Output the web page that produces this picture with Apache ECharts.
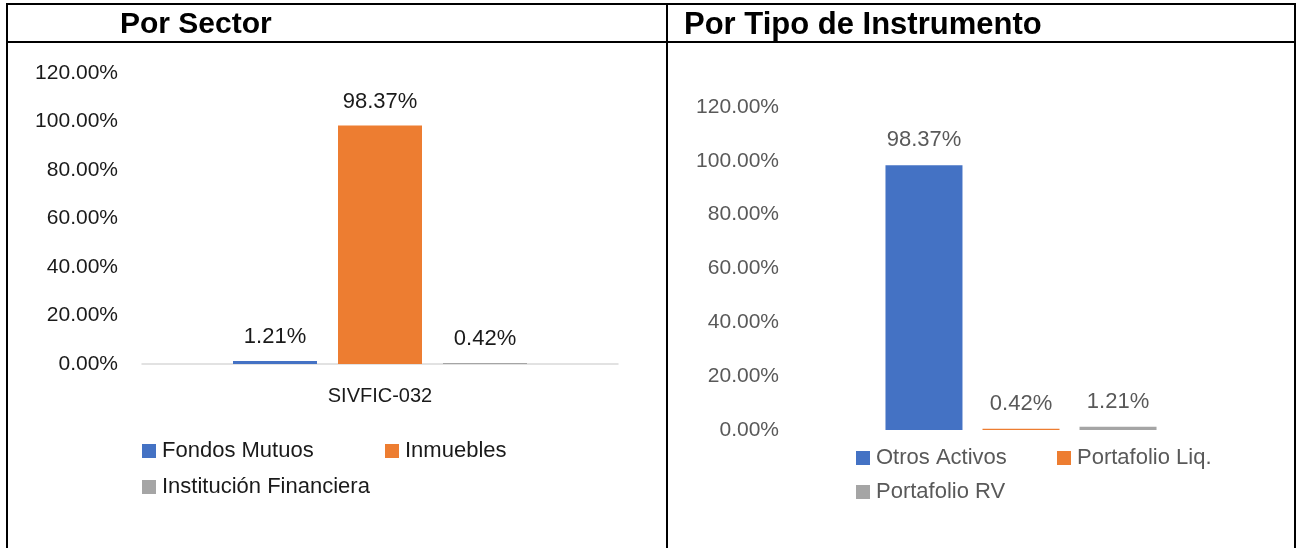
<!DOCTYPE html>
<html>
<head>
<meta charset="utf-8">
<script src="https://cdn.jsdelivr.net/npm/echarts@6/dist/echarts.min.js"></script>
<style>
html,body{margin:0;padding:0;background:#fff;}
#chart{width:1300px;height:548px;}
</style>
</head>
<body>
<div id="chart"></div>
<script>
// ---- Data ----
const sectorTitle = 'Por Sector';
const sectorCategories = ['SIVFIC-032'];
const sectorSeriesNames = ['Fondos Mutuos', 'Inmuebles', 'Institución Financiera'];
const sectorValues = [1.21, 98.37, 0.42];

const instrumentTitle = 'Por Tipo de Instrumento';
const instrumentCategories = [''];
const instrumentSeriesNames = ['Otros Activos', 'Portafolio Liq.', 'Portafolio RV'];
const instrumentValues = [98.37, 0.42, 1.21];

const axisMin = 0, axisMax = 120, axisInterval = 20;
const colors = ['#4472C4', '#ED7D31', '#A5A5A5'];

// ---- Chart ----
const FONT = 'Liberation Sans';
const chart = echarts.init(document.getElementById('chart'), null, {renderer: 'canvas'});
const pct = v => Number(v).toFixed(2) + '%';

const series = [];
sectorSeriesNames.forEach((n, i) => {
  series.push({
    type: 'bar', name: n, xAxisIndex: 0, yAxisIndex: 0,
    data: [sectorValues[i]], barWidth: 84, barGap: '25%',
    itemStyle: {color: colors[i]},
    label: {show: true, position: 'top', distance: 13, formatter: p => pct(p.value),
      color: '#1a1a1a', fontFamily: FONT, fontSize: 22}
  });
});
instrumentSeriesNames.forEach((n, i) => {
  series.push({
    type: 'bar', name: n, xAxisIndex: 1, yAxisIndex: 1,
    data: [instrumentValues[i]], barWidth: 77, barGap: '26%',
    itemStyle: {color: colors[i]},
    label: {show: true, position: 'top', distance: 14, formatter: p => pct(p.value),
      color: '#595959', fontFamily: FONT, fontSize: 22}
  });
});

function mkLegend(name, left, top, textColor) {
  return {data: [name], left: left, top: top, padding: 0, icon: 'rect',
    itemWidth: 14, itemHeight: 14, itemGap: 0, selectedMode: false,
    textStyle: {color: textColor, fontFamily: FONT, fontSize: 22, padding: [0, 0, 0, 1]}};
}

const option = {
  animation: false,
  backgroundColor: '#fff',
  title: [
    {text: sectorTitle, left: 120, top: 10, padding: 0,
      textStyle: {fontFamily: FONT, fontWeight: 'bold', fontSize: 30, color: '#000'}},
    {text: instrumentTitle, left: 684, top: 10, padding: 0,
      textStyle: {fontFamily: FONT, fontWeight: 'bold', fontSize: 31, color: '#000'}}
  ],
  legend: [
    mkLegend(sectorSeriesNames[0], 142, 440, '#1a1a1a'),
    mkLegend(sectorSeriesNames[1], 385, 440, '#1a1a1a'),
    mkLegend(sectorSeriesNames[2], 142, 476, '#1a1a1a'),
    mkLegend(instrumentSeriesNames[0], 856, 447, '#595959'),
    mkLegend(instrumentSeriesNames[1], 1057, 447, '#595959'),
    mkLegend(instrumentSeriesNames[2], 856, 481, '#595959')
  ],
  grid: [
    {left: 142, top: 73, width: 476, height: 291},
    {left: 800, top: 107, width: 442, height: 323}
  ],
  xAxis: [
    {type: 'category', gridIndex: 0, data: sectorCategories,
      axisLine: {show: true, lineStyle: {color: '#d9d9d9', width: 1.5}},
      axisTick: {show: false},
      axisLabel: {margin: 22, color: '#1a1a1a', fontFamily: FONT, fontSize: 20}},
    {type: 'category', gridIndex: 1, data: instrumentCategories,
      axisLine: {show: false}, axisTick: {show: false}, axisLabel: {show: false}}
  ],
  yAxis: [
    {type: 'value', gridIndex: 0, min: axisMin, max: axisMax, interval: axisInterval,
      splitLine: {show: false}, axisLine: {show: false}, axisTick: {show: false},
      axisLabel: {margin: 24, formatter: v => pct(v), color: '#1a1a1a', fontFamily: FONT, fontSize: 21}},
    {type: 'value', gridIndex: 1, min: axisMin, max: axisMax, interval: axisInterval,
      splitLine: {show: false}, axisLine: {show: false}, axisTick: {show: false},
      axisLabel: {margin: 21, formatter: v => pct(v), color: '#595959', fontFamily: FONT, fontSize: 21}}
  ],
  series: series,
  graphic: [
    {type: 'line', shape: {x1: 6, y1: 4, x2: 1296, y2: 4}, style: {stroke: '#000', lineWidth: 2}},
    {type: 'line', shape: {x1: 7, y1: 4, x2: 7, y2: 548}, style: {stroke: '#000', lineWidth: 2}},
    {type: 'line', shape: {x1: 667, y1: 4, x2: 667, y2: 548}, style: {stroke: '#000', lineWidth: 2}},
    {type: 'line', shape: {x1: 1295, y1: 4, x2: 1295, y2: 548}, style: {stroke: '#000', lineWidth: 2}},
    {type: 'line', shape: {x1: 7, y1: 42, x2: 1295, y2: 42}, style: {stroke: '#000', lineWidth: 2}}
  ]
};
chart.setOption(option);
</script>
</body>
</html>
